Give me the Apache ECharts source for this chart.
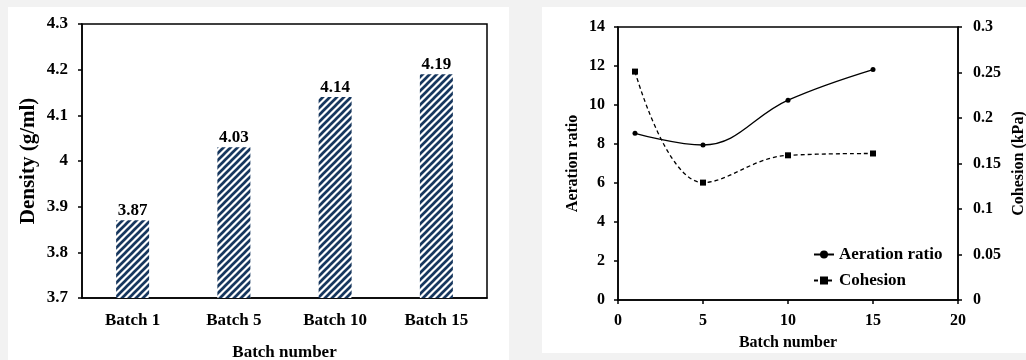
<!DOCTYPE html>
<html>
<head>
<meta charset="utf-8">
<script src="https://cdn.jsdelivr.net/npm/echarts@6/dist/echarts.min.js"></script>
<style>
  html,body{margin:0;padding:0;background:#f2f2f2;}
  #wrap{position:relative;width:1026px;height:360px;overflow:hidden;}
  .panel{position:absolute;background:#fff;}
  #chart{position:absolute;left:0;top:0;width:1026px;height:360px;}
</style>
</head>
<body>
<div id="wrap">
  <div class="panel" style="left:8px;top:7px;width:501px;height:353px;"></div>
  <div class="panel" style="left:542px;top:7px;width:484px;height:346px;"></div>
  <div id="chart"></div>
</div>
<script>
// left: density per batch
var batchNames = ['Batch 1', 'Batch 5', 'Batch 10', 'Batch 15'];
var density = [3.87, 4.03, 4.14, 4.19];

// right: aeration ratio & cohesion vs batch number
var batchNo = [1, 5, 10, 15];
var aeration = [8.55, 7.95, 10.25, 11.82];
var cohesion = [0.251, 0.129, 0.159, 0.161];

var font = 'Liberation Serif';

// hatch pattern for the bars
function hatch(){
  var c = document.createElement('canvas');
  c.width = 7; c.height = 7;
  var ctx = c.getContext('2d');
  ctx.fillStyle = '#fff';
  ctx.fillRect(0, 0, 7, 7);
  ctx.strokeStyle = '#17375e';
  ctx.lineWidth = 2.7;
  ctx.beginPath();
  ctx.moveTo(-1, 8); ctx.lineTo(8, -1);
  ctx.moveTo(-2, 2); ctx.lineTo(2, -2);
  ctx.moveTo(5, 9); ctx.lineTo(9, 5);
  ctx.stroke();
  return c;
}

var lbl = {color:'#000', fontFamily:font, fontWeight:'bold'};
var blackLine = {lineStyle:{color:'#000', width:1.5}};

var myChart = echarts.init(document.getElementById('chart'));
myChart.setOption({
  animation:false,
  textStyle:{fontFamily:font},
  grid:[
    {left:82, top:24, width:405, height:274, outerBoundsMode:'none', containLabel:false,
     show:true, borderColor:'#000', borderWidth:1.5, backgroundColor:'transparent'},
    {left:618, top:27, width:340, height:273, outerBoundsMode:'none', containLabel:false,
     show:true, borderColor:'#000', borderWidth:1.5, backgroundColor:'transparent'}
  ],
  legend:{
    orient:'vertical',
    left:808, top:241,
    itemWidth:20, itemHeight:10, itemGap:9,
    textStyle:Object.assign({fontSize:17}, lbl),
    data:['Aeration ratio','Cohesion']
  },
  xAxis:[
    {
      gridIndex:0, type:'category', data:batchNames,
      axisLine:blackLine, axisTick:{show:false},
      axisLabel:Object.assign({fontSize:17, margin:14}, lbl),
      name:'Batch number', nameLocation:'middle', nameGap:46,
      nameTextStyle:Object.assign({fontSize:17}, lbl)
    },
    {
      gridIndex:1, type:'value', min:0, max:20, interval:5,
      axisLine:blackLine, axisTick:{show:true, length:4, lineStyle:{color:'#000', width:1.5}},
      splitLine:{show:false},
      axisLabel:Object.assign({fontSize:16, margin:13}, lbl),
      name:'Batch number', nameLocation:'middle', nameGap:35,
      nameTextStyle:Object.assign({fontSize:16}, lbl)
    }
  ],
  yAxis:[
    {
      gridIndex:0, type:'value', min:3.7, max:4.3, interval:0.1,
      axisLine:Object.assign({show:true}, blackLine),
      axisTick:{show:true, length:4, lineStyle:{color:'#000', width:1.5}},
      splitLine:{show:false},
      axisLabel:Object.assign({fontSize:17, margin:14}, lbl),
      name:'Density (g/ml)', nameLocation:'middle', nameGap:43,
      nameTextStyle:Object.assign({fontSize:21}, lbl)
    },
    {
      gridIndex:1, type:'value', min:0, max:14, interval:2,
      axisLine:Object.assign({show:true}, blackLine),
      axisTick:{show:true, length:4, lineStyle:{color:'#000', width:1.5}},
      splitLine:{show:false},
      axisLabel:Object.assign({fontSize:16, margin:13}, lbl),
      name:'Aeration ratio', nameLocation:'middle', nameGap:37,
      nameTextStyle:Object.assign({fontSize:16}, lbl)
    },
    {
      gridIndex:1, type:'value', position:'right', min:0, max:0.3, interval:0.05,
      axisLine:Object.assign({show:true}, blackLine),
      axisTick:{show:true, length:4, lineStyle:{color:'#000', width:1.5}},
      splitLine:{show:false},
      axisLabel:Object.assign({fontSize:16, margin:15}, lbl),
      name:'Cohesion (kPa)', nameLocation:'middle', nameGap:53,
      nameTextStyle:Object.assign({fontSize:16}, lbl)
    }
  ],
  series:[
    {
      type:'bar', xAxisIndex:0, yAxisIndex:0,
      data:density, barWidth:33,
      itemStyle:{color:{image:hatch(), repeat:'repeat'}},
      label:Object.assign({show:true, position:'top', distance:1, fontSize:17}, lbl)
    },
    {
      name:'Aeration ratio', type:'line', xAxisIndex:1, yAxisIndex:1,
      data:batchNo.map(function(b,i){return [b, aeration[i]];}),
      smooth:0.4, symbol:'circle', symbolSize:5,
      lineStyle:{color:'#000', width:1.3},
      itemStyle:{color:'#000'}
    },
    {
      name:'Cohesion', type:'line', xAxisIndex:1, yAxisIndex:2,
      data:batchNo.map(function(b,i){return [b, cohesion[i]];}),
      smooth:0.4, symbol:'rect', symbolSize:6,
      lineStyle:{color:'#000', width:1.3, type:[4,3]},
      itemStyle:{color:'#000'}
    }
  ]
});
</script>
</body>
</html>
